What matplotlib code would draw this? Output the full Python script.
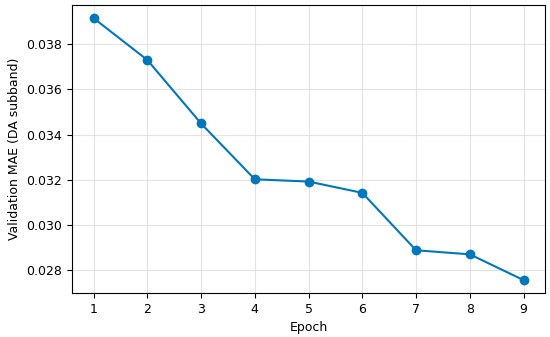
import matplotlib
matplotlib.use("Agg")
import matplotlib.pyplot as plt

epochs = [1, 2, 3, 4, 5, 6, 7, 8, 9]
val_mae = [0.03915, 0.03730, 0.03449, 0.03202, 0.03192, 0.03142, 0.02888, 0.02870, 0.02756]

fig, ax = plt.subplots(figsize=(5.5, 3.37), dpi=100)
ax.plot(epochs, val_mae, marker='o', color='#0077BB', linewidth=1.5, markersize=6)
ax.set_xlabel('Epoch', fontsize=9)
ax.set_ylabel('Validation MAE (DA subband)', fontsize=9)
ax.set_xticks(epochs)
ax.tick_params(labelsize=9)
ax.grid(True, color='#dddddd', linewidth=0.8, alpha=0.8)
fig.subplots_adjust(left=0.131, right=0.991, top=0.985, bottom=0.13)
fig.savefig('out.png', dpi=100)
